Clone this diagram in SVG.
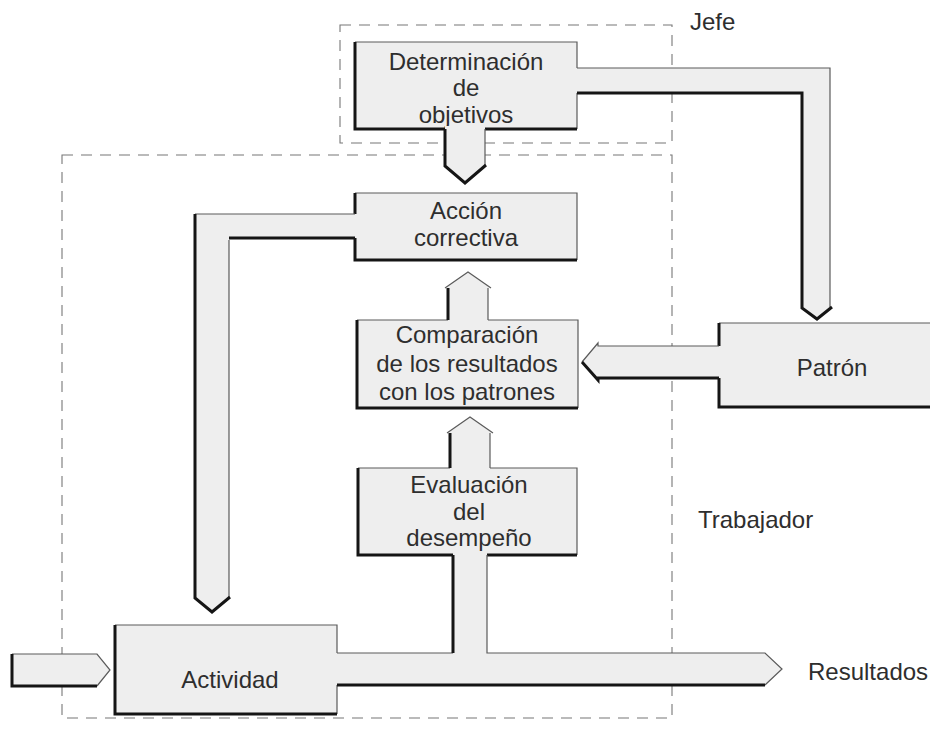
<svg xmlns="http://www.w3.org/2000/svg" width="930" height="730" viewBox="0 0 930 730">
  <defs>
    <style>
      .zone { fill: none; stroke: #777777; stroke-width: 1.1; stroke-dasharray: 11 8; }
      .body { fill: #eeeeee; stroke: none; }
      .lite { fill: none; stroke: #5a5a5a; stroke-width: 1.2; stroke-linejoin: miter; }
      .dark { fill: none; stroke: #151515; stroke-width: 3; stroke-linejoin: miter; }
      .lbl { font-family: "Liberation Sans", Arial, Helvetica, sans-serif; font-size: 24px; fill: #2e2e2e; text-anchor: middle; }
      .zlbl { font-family: "Liberation Sans", Arial, Helvetica, sans-serif; font-size: 24px; fill: #2e2e2e; }
    </style>
  </defs>

  <rect width="930" height="730" fill="#ffffff"/>

  <!-- organisational zones -->
  <g id="zones">
    <rect class="zone" x="340" y="25" width="332" height="118"/>
    <rect class="zone" x="62" y="155" width="610" height="563"/>
    <text class="zlbl" x="690" y="30">Jefe</text>
    <text class="zlbl" x="698" y="528">Trabajador</text>
    <text class="zlbl" x="808" y="680">Resultados</text>
  </g>

  <!-- process steps -->
  <g id="determinacion">
    <rect class="body" x="355" y="42" width="222" height="87"/>
    <path class="lite" d="M355,42 H577 V129"/>
    <path class="dark" d="M355,42 V129 H577"/>
    <text class="lbl" x="466" y="70">Determinación</text>
    <text class="lbl" x="466" y="96">de</text>
    <text class="lbl" x="466" y="123">objetivos</text>
  </g>

  <g id="accion">
    <rect class="body" x="355" y="193" width="222" height="67"/>
    <path class="lite" d="M355,193 H577 V260"/>
    <path class="dark" d="M355,193 V260 H577"/>
    <text class="lbl" x="466" y="219">Acción</text>
    <text class="lbl" x="466" y="246">correctiva</text>
  </g>

  <g id="comparacion">
    <rect class="body" x="357" y="320" width="221" height="88"/>
    <path class="lite" d="M357,320 H578 V408"/>
    <path class="dark" d="M357,320 V408 H578"/>
    <text class="lbl" x="467" y="343">Comparación</text>
    <text class="lbl" x="467" y="372">de los resultados</text>
    <text class="lbl" x="467" y="400">con los patrones</text>
  </g>

  <g id="evaluacion">
    <rect class="body" x="358" y="468" width="219" height="87"/>
    <path class="lite" d="M358,468 H577 V555"/>
    <path class="dark" d="M358,468 V555 H577"/>
    <text class="lbl" x="469" y="493">Evaluación</text>
    <text class="lbl" x="469" y="520">del</text>
    <text class="lbl" x="469" y="546">desempeño</text>
  </g>

  <g id="patron">
    <rect class="body" x="719" y="323" width="215" height="84"/>
    <path class="lite" d="M719,323 H934"/>
    <path class="dark" d="M719,323 V407 H934"/>
    <text class="lbl" x="832" y="376">Patrón</text>
  </g>

  <g id="actividad">
    <rect class="body" x="115" y="625" width="222" height="89"/>
    <path class="lite" d="M115,625 H337 V714"/>
    <path class="dark" d="M115,625 V714 H337"/>
    <text class="lbl" x="230" y="688">Actividad</text>
  </g>

  <!-- block arrows between steps -->
  <g id="connectors">
    <!-- objetivos -> accion correctiva -->
    <polygon class="body" points="445,126 485,126 485,166 465,183 445,166"/>
    <path class="lite" d="M485,129 V166"/>
    <path class="dark" d="M445,129 V166 L465,183 L486,165"/>

    <!-- objetivos -> patron -->
    <polygon class="body" points="574,68 830,68 830,308 817,319 802,308 802,93 574,93"/>
    <path class="lite" d="M577,68 H830 V307"/>
    <path class="dark" d="M577,93 H802 V308 L817,319 L832,307"/>

    <!-- patron -> comparacion -->
    <polygon class="body" points="722,346 598,346 598,343 582,362 598,380 722,378"/>
    <path class="lite" d="M719,346 H598 V343 L582,362"/>
    <path class="dark" d="M582,362 L598,380 V378 H719"/>

    <!-- accion correctiva -> actividad (feedback) -->
    <polygon class="body" points="358,214 195,214 195,598 212,612 229,598 229,238 358,238"/>
    <path class="lite" d="M355,214 H195 M229,240 V598"/>
    <path class="dark" d="M195,214 V598 L212,612 L230,597 M229,238 H355"/>

    <!-- comparacion -> accion correctiva -->
    <polygon class="body" points="448,323 448,288 445,288 468,272 491,288 488,288 488,323"/>
    <path class="lite" d="M445,288 L468,272 L491,288 M488,288 V320"/>
    <path class="dark" d="M448,288 V320"/>

    <!-- evaluacion -> comparacion -->
    <polygon class="body" points="450,471 450,433 447,433 470,417 493,433 490,433 490,471"/>
    <path class="lite" d="M447,433 L470,417 L493,433 M490,433 V468"/>
    <path class="dark" d="M450,433 V468"/>

    <!-- entrada -> actividad -->
    <polygon class="body" points="12,654 97,654 110,670 97,686 12,686"/>
    <path class="lite" d="M12,654 H97 L110,670 L97,686"/>
    <path class="dark" d="M12,654 V686 H97"/>

    <!-- actividad -> resultados, with branch to evaluacion -->
    <polygon class="body" points="334,653 453,653 453,552 487,552 487,653 765,653 782,669 765,685 334,685"/>
    <path class="lite" d="M337,653 H453 M487,555 V653 H765 L782,669 L765,685"/>
    <path class="dark" d="M453,555 V653 M337,685 H765"/>
  </g>
</svg>
